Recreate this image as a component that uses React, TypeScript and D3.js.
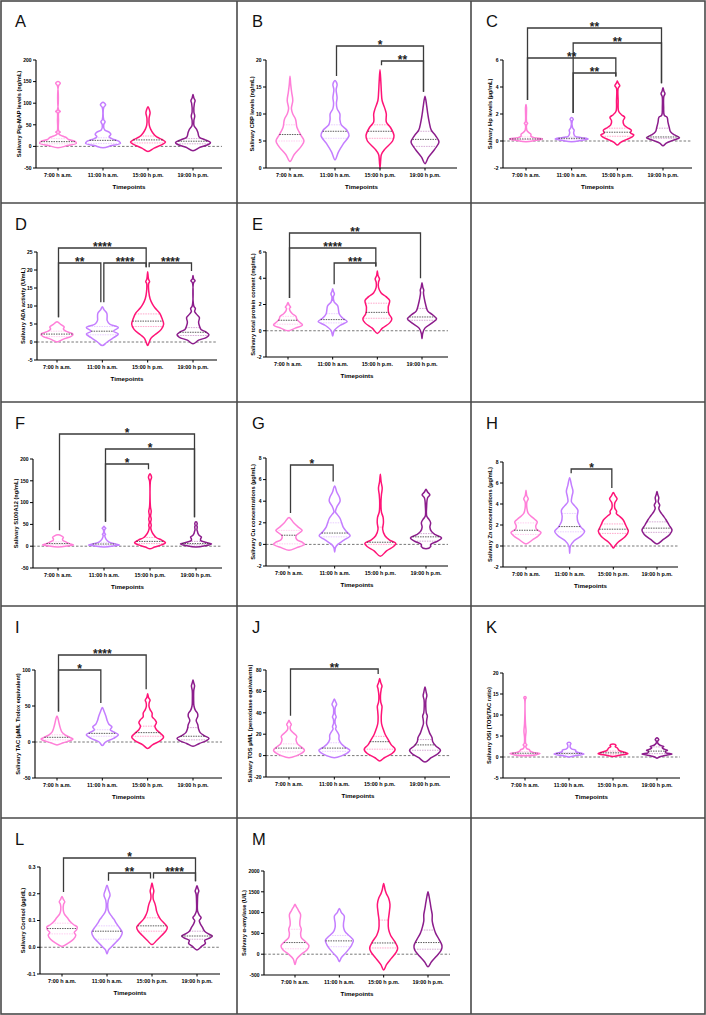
import React from "react";
import * as d3 from "d3";

type Knot = [number, number];
type Stat = [number, number, number];
type Bracket = [number, number, string, number];

const timepoints = ["7:00 h a.m.", "11:00 h a.m.", "15:00 h p.m.", "19:00 h p.m."];
const groupColors = ["#FF7FD8", "#C47EFF", "#FF1477", "#8C1D8C"];

// ---------- A: Pig-MAP ----------
const aTicks = [-50, 0, 50, 100, 150, 200];
const aViolins: Knot[][] = [
  [[-3, 0], [2, 0.55], [7, 1.05], [12, 0.95], [16, 0.6], [20, 0.5], [24, 0.25], [28, 0.06], [31, 0.05], [33, 0.13], [36, 0.04], [60, 0.03], [78, 0.04], [81, 0.13], [84, 0.04], [140, 0.03], [146, 0.13], [150, 0]],
  [[-3, 0], [2, 0.5], [7, 1], [12, 0.9], [18, 0.5], [22, 0.35], [28, 0.45], [33, 0.35], [38, 0.1], [50, 0.04], [57, 0.12], [62, 0.04], [90, 0.04], [96, 0.15], [102, 0]],
  [[-12, 0], [-4, 0.35], [4, 0.8], [10, 1], [16, 0.8], [22, 0.5], [30, 0.3], [40, 0.15], [50, 0.07], [65, 0.06], [78, 0.12], [85, 0.08], [92, 0]],
  [[-10, 0], [-2, 0.4], [5, 0.9], [9, 1], [15, 0.7], [22, 0.35], [32, 0.28], [40, 0.2], [48, 0.06], [60, 0.05], [70, 0.1], [80, 0.05], [100, 0.08], [106, 0.12], [112, 0.05], [120, 0]],
];
const aStats: Stat[] = [[11, 6, 18], [14, 7, 20], [15, 8, 24], [12, 6, 18]];
const aBrackets: Bracket[] = [];

// ---------- B: CRP ----------
const bTicks = [0, 5, 10, 15, 20];
const bViolins: Knot[][] = [
  [[1.2, 0], [2.5, 0.3], [4, 0.8], [5, 1], [6, 0.8], [7.5, 0.5], [9, 0.4], [10, 0.2], [11, 0.1], [12.5, 0.2], [14, 0.12], [15.5, 0.05], [17, 0]],
  [[1.5, 0], [3, 0.25], [4.5, 0.6], [6, 1], [7, 0.85], [8, 0.45], [9, 0.35], [10, 0.35], [11, 0.15], [12, 0.1], [13, 0.15], [14.5, 0.08], [15.5, 0.15], [16.2, 0]],
  [[0, 0], [1.5, 0.05], [2.5, 0.1], [3.5, 0.35], [5, 0.9], [6, 1], [7.5, 0.75], [8.5, 0.45], [10, 0.45], [11, 0.35], [12.5, 0.15], [14, 0.1], [16, 0.06], [18.2, 0]],
  [[0.8, 0], [2, 0.25], [3.5, 0.7], [4.8, 1], [6, 0.75], [7, 0.45], [8.5, 0.3], [10, 0.2], [11.5, 0.12], [13.3, 0]],
];
const bStats: Stat[] = [[6.2, 5, 8], [6.8, 5.5, 8], [6.8, 5.5, 8], [5.3, 4, 6.8]];
const bBrackets: Bracket[] = [[1, 3, "*", 1], [2, 3, "**", 0]];

// ---------- C: Hp ----------
const cTicks = [-2, 0, 2, 4, 6];
const cViolins: Knot[][] = [
  [[-0.05, 0], [0.05, 0.6], [0.15, 1], [0.25, 0.5], [0.35, 0.3], [0.5, 0.3], [0.65, 0.15], [0.8, 0.05], [1.2, 0.04], [1.3, 0.1], [1.4, 0.04], [2.5, 0.03], [2.7, 0]],
  [[-0.05, 0], [0.05, 0.6], [0.15, 1], [0.25, 0.6], [0.35, 0.2], [0.6, 0.12], [0.8, 0.15], [1.0, 0.05], [1.5, 0.04], [1.6, 0.1], [1.75, 0]],
  [[-0.3, 0], [-0.1, 0.2], [0.1, 0.55], [0.3, 0.9], [0.45, 1], [0.6, 0.8], [0.8, 0.85], [1.0, 0.6], [1.2, 0.4], [1.5, 0.35], [1.75, 0.45], [1.95, 0.25], [2.2, 0.08], [3, 0.05], [3.9, 0.05], [4.1, 0.15], [4.3, 0.05], [4.45, 0]],
  [[-0.35, 0], [-0.15, 0.2], [0.05, 0.6], [0.25, 1], [0.45, 0.7], [0.7, 0.45], [1.0, 0.38], [1.4, 0.3], [1.75, 0.25], [1.9, 0.08], [2.5, 0.04], [3.3, 0.05], [3.5, 0.12], [3.7, 0.05], [3.95, 0]],
];
const cStats: Stat[] = [[0.15, 0.1, 0.3], [0.2, 0.1, 0.3], [0.65, 0.35, 0.95], [0.3, 0.2, 0.95]];
const cBrackets: Bracket[] = [[0, 3, "**", 3], [1, 3, "**", 2], [0, 2, "**", 1], [1, 2, "**", 0]];

// ---------- D: ADA ----------
const dTicks = [-5, 0, 5, 10, 15, 20, 25];
const dViolins: Knot[][] = [
  [[0, 0], [0.8, 0.4], [1.6, 0.9], [2.2, 1], [3.0, 0.55], [3.6, 0.4], [4.2, 0.45], [4.8, 0.25], [5.6, 0]],
  [[-1, 0], [0, 0.3], [1.2, 0.7], [2.2, 1], [3, 0.7], [4, 1], [5, 0.45], [6, 0.3], [7, 0.3], [8, 0.28], [9, 0.1], [9.8, 0]],
  [[-1, 0], [0, 0.1], [1, 0.2], [2, 0.45], [3.5, 0.85], [5, 1], [6.5, 0.9], [8, 0.75], [9.5, 0.45], [10.5, 0.3], [12, 0.15], [14, 0.07], [16.2, 0.06], [16.8, 0.12], [17.5, 0.05], [19.5, 0]],
  [[-0.5, 0], [0.5, 0.35], [1.3, 0.85], [2, 1], [2.8, 0.8], [3.5, 0.5], [4.5, 0.4], [5.5, 0.35], [6.8, 0.4], [7.8, 0.2], [8.5, 0.1], [9.3, 0.15], [10, 0.05], [16.5, 0.04], [17, 0.13], [17.5, 0.04], [18.5, 0]],
];
const dStats: Stat[] = [[2.2, 1.5, 3], [3, 2, 4.3], [5.8, 4.3, 7.8], [2.7, 1.8, 4]];
const dBrackets: Bracket[] = [[0, 2, "****", 1], [0, 1, "**", 0], [1, 2, "****", 0], [2, 3, "****", 0]];

// ---------- E: total protein ----------
const eTicks = [-2, 0, 2, 4, 6];
const eViolins: Knot[][] = [
  [[0, 0], [0.2, 0.5], [0.45, 1], [0.7, 0.75], [0.9, 0.6], [1.1, 0.55], [1.3, 0.3], [1.5, 0.15], [1.7, 0.1], [1.8, 0.18], [1.95, 0.08], [2.15, 0]],
  [[-0.4, 0], [0, 0.1], [0.4, 0.5], [0.7, 1], [1.0, 0.65], [1.3, 0.45], [1.6, 0.4], [1.9, 0.35], [2.2, 0.1], [2.6, 0.05], [2.8, 0.12], [3.0, 0.05], [3.2, 0]],
  [[-0.2, 0], [0.2, 0.35], [0.6, 0.85], [0.9, 1], [1.3, 0.8], [1.8, 0.75], [2.3, 0.85], [2.6, 0.6], [2.9, 0.25], [3.3, 0.08], [3.7, 0.08], [3.95, 0.15], [4.2, 0.05], [4.55, 0]],
  [[-0.6, 0], [-0.2, 0.05], [0.2, 0.2], [0.6, 0.7], [0.9, 1], [1.2, 0.75], [1.5, 0.4], [2, 0.25], [2.5, 0.15], [2.9, 0.1], [3.1, 0.12], [3.3, 0.06], [3.65, 0]],
];
const eStats: Stat[] = [[0.8, 0.5, 1.1], [0.85, 0.6, 1.3], [1.4, 0.95, 2.1], [1.05, 0.8, 1.7]];
const eBrackets: Bracket[] = [[0, 3, "**", 2], [0, 2, "****", 1], [1, 2, "***", 0]];

// ---------- F: S100A12 ----------
const fTicks = [-50, 0, 50, 100, 150, 200];
const fViolins: Knot[][] = [
  [[-2, 0], [1, 0.7], [3, 1], [6, 0.75], [10, 0.5], [14, 0.3], [17, 0.3], [20, 0.35], [23, 0.25], [26, 0]],
  [[-2, 0], [1, 0.7], [3, 1], [6, 0.6], [10, 0.3], [15, 0.15], [20, 0.08], [25, 0.05], [27, 0.1], [30, 0.04], [38, 0.04], [41, 0.12], [44, 0.04], [46, 0]],
  [[-6, 0], [-2, 0.3], [3, 0.75], [8, 1], [14, 0.75], [20, 0.4], [28, 0.2], [35, 0.1], [42, 0.05], [48, 0.08], [55, 0.04], [62, 0.08], [70, 0.04], [80, 0.08], [90, 0.03], [150, 0.03], [158, 0.1], [166, 0]],
  [[-2, 0], [1, 0.6], [5, 1], [9, 0.6], [13, 0.3], [17, 0.3], [21, 0.35], [25, 0.2], [30, 0.12], [33, 0.1], [38, 0.06], [44, 0.08], [48, 0.05], [52, 0.08], [56, 0]],
];
const fStats: Stat[] = [[6, 3, 10], [5, 2, 9], [11, 6, 20], [6, 3, 11]];
const fBrackets: Bracket[] = [[0, 3, "*", 2], [1, 3, "*", 1], [1, 2, "*", 0]];

// ---------- G: Cu ----------
const gTicks = [-2, 0, 2, 4, 6, 8];
const gViolins: Knot[][] = [
  [[-0.55, 0], [-0.3, 0.5], [0, 1], [0.2, 0.85], [0.45, 0.5], [0.8, 0.45], [1.1, 0.7], [1.3, 0.85], [1.6, 0.6], [2.0, 0.3], [2.5, 0]],
  [[-0.7, 0], [-0.3, 0.05], [0, 0.2], [0.4, 0.6], [0.8, 1], [1.2, 0.75], [1.6, 0.55], [2.0, 0.45], [2.4, 0.35], [2.8, 0.15], [3.0, 0.05], [3.5, 0.15], [4.0, 0.35], [4.4, 0.3], [4.8, 0.15], [5.4, 0]],
  [[-1.1, 0], [-0.6, 0.4], [-0.2, 0.85], [0.1, 1], [0.4, 0.6], [0.8, 0.3], [1.4, 0.15], [2.0, 0.2], [2.5, 0.18], [3.0, 0.07], [3.8, 0.04], [4.6, 0.07], [5.2, 0.12], [5.8, 0.05], [6.5, 0]],
  [[-0.4, 0], [-0.2, 0.3], [0, 0.3], [0.3, 0.75], [0.6, 1], [0.9, 0.6], [1.2, 0.35], [1.6, 0.25], [2.0, 0.3], [2.3, 0.2], [2.6, 0.05], [3.5, 0.04], [4.3, 0.1], [4.6, 0.25], [4.85, 0.1], [5.1, 0]],
];
const gStats: Stat[] = [[0.85, 0.05, 1.3], [1.05, 0.7, 2], [0.2, 0, 1.6], [0.7, 0.3, 1.0]];
const gBrackets: Bracket[] = [[0, 1, "*", 0]];

// ---------- H: Zn ----------
const hTicks = [-2, 0, 2, 4, 6, 8];
const hViolins: Knot[][] = [
  [[0.2, 0], [0.6, 0.45], [1.0, 0.85], [1.3, 1], [1.6, 0.7], [1.9, 0.65], [2.3, 0.75], [2.7, 0.45], [3.1, 0.15], [3.6, 0.06], [4.2, 0.06], [4.5, 0.15], [4.8, 0.05], [5.3, 0]],
  [[-0.7, 0], [0, 0.05], [0.5, 0.3], [1.0, 0.8], [1.4, 1], [1.8, 0.75], [2.3, 0.55], [2.8, 0.5], [3.4, 0.55], [3.8, 0.35], [4.2, 0.12], [4.7, 0.15], [5.2, 0.22], [5.8, 0.12], [6.5, 0]],
  [[-0.2, 0], [0, 0.1], [0.4, 0.35], [0.9, 0.8], [1.4, 1], [1.9, 0.85], [2.5, 0.65], [2.9, 0.35], [3.1, 0.2], [3.3, 0.22], [3.6, 0.1], [4.1, 0.1], [4.5, 0.25], [4.8, 0.12], [5.1, 0]],
  [[0.2, 0], [0.6, 0.4], [1.1, 0.85], [1.5, 1], [2.0, 0.8], [2.5, 0.6], [2.9, 0.4], [3.3, 0.2], [3.6, 0.12], [3.9, 0.18], [4.2, 0.08], [4.6, 0.12], [4.9, 0.05], [5.2, 0]],
];
const hStats: Stat[] = [[1.5, 1.1, 2.2], [1.85, 1.35, 3.1], [1.6, 1.2, 2.1], [1.7, 1.3, 2.3]];
const hBrackets: Bracket[] = [[1, 2, "*", 0]];

// ---------- I: TAC ----------
const iTicks = [-50, 0, 50, 100];
const iViolins: Knot[][] = [
  [[-4, 0], [-1, 0.4], [2, 0.85], [4, 1], [7, 0.75], [10, 0.5], [14, 0.3], [20, 0.2], [27, 0.12], [32, 0.07], [36, 0]],
  [[-5, 0], [0, 0.2], [5, 0.7], [10, 1], [14, 0.7], [17, 0.5], [21, 0.6], [25, 0.4], [30, 0.3], [36, 0.22], [42, 0.12], [48, 0]],
  [[-9, 0], [-4, 0.3], [2, 0.8], [7, 1], [12, 0.8], [17, 0.55], [22, 0.45], [27, 0.55], [31, 0.45], [35, 0.28], [40, 0.28], [45, 0.15], [50, 0.08], [55, 0.1], [58, 0.15], [62, 0.05], [67, 0]],
  [[-6, 0], [-2, 0.4], [2, 0.85], [5, 1], [9, 0.7], [13, 0.45], [18, 0.35], [24, 0.3], [30, 0.2], [36, 0.3], [40, 0.28], [44, 0.15], [50, 0.06], [60, 0.04], [72, 0.05], [78, 0.1], [82, 0.05], [86, 0]],
];
const iStats: Stat[] = [[6.5, 3, 10], [12, 8, 17], [13, 8, 22], [8, 3, 20]];
const iBrackets: Bracket[] = [[0, 2, "****", 1], [0, 1, "*", 0]];

// ---------- J: TOS ----------
const jTicks = [-20, 0, 20, 40, 60, 80];
const jViolins: Knot[][] = [
  [[-2, 0], [0, 0.5], [3, 0.9], [5, 1], [8, 0.8], [11, 0.55], [15, 0.45], [18, 0.5], [21, 0.3], [24, 0.1], [27, 0.08], [29, 0.15], [31, 0.07], [33, 0]],
  [[-2, 0], [0, 0.5], [3, 0.9], [5, 1], [8, 0.7], [11, 0.45], [15, 0.3], [19, 0.3], [22, 0.2], [25, 0.08], [27, 0.12], [30, 0.05], [34, 0.06], [36, 0.12], [39, 0.05], [45, 0.06], [48, 0.15], [51, 0.06], [53, 0]],
  [[-5, 0], [-2, 0.3], [2, 0.8], [6, 1], [10, 0.75], [15, 0.55], [20, 0.35], [25, 0.22], [30, 0.12], [36, 0.1], [42, 0.13], [46, 0.15], [50, 0.07], [56, 0.05], [62, 0.1], [65, 0.15], [68, 0.07], [72, 0]],
  [[-6, 0], [-2, 0.4], [2, 0.85], [5, 1], [9, 0.7], [13, 0.5], [17, 0.45], [21, 0.3], [26, 0.18], [30, 0.1], [34, 0.12], [37, 0.15], [40, 0.08], [46, 0.05], [52, 0.06], [56, 0.12], [59, 0.08], [64, 0]],
];
const jStats: Stat[] = [[7, 3.5, 11], [7, 4, 12], [13, 6, 18], [10, 5, 15]];
const jBrackets: Bracket[] = [[0, 2, "**", 0]];

// ---------- K: OSI ----------
const kTicks = [-5, 0, 5, 10, 15, 20];
const kViolins: Knot[][] = [
  [[0.3, 0], [0.5, 0.7], [0.8, 1], [1.1, 0.55], [1.4, 0.35], [1.7, 0.3], [2.0, 0.12], [2.5, 0.05], [2.9, 0.12], [3.2, 0.05], [4.5, 0.03], [6.2, 0.07], [8, 0.03], [13.8, 0.03], [14.1, 0.08], [14.4, 0]],
  [[0, 0], [0.3, 0.4], [0.7, 1], [1.0, 0.7], [1.3, 0.45], [1.6, 0.45], [1.9, 0.2], [2.3, 0.08], [2.8, 0.08], [3.2, 0.13], [3.5, 0]],
  [[0.1, 0], [0.4, 0.45], [0.8, 1], [1.2, 0.7], [1.6, 0.4], [2.1, 0.3], [2.5, 0.15], [2.8, 0.2], [3.1, 0]],
  [[-0.3, 0], [0, 0.15], [0.3, 0.45], [0.7, 1], [1.0, 0.6], [1.3, 0.55], [1.6, 0.7], [1.9, 0.45], [2.2, 0.35], [2.5, 0.45], [2.8, 0.2], [3.3, 0.05], [3.8, 0.05], [4.1, 0.12], [4.6, 0]],
];
const kStats: Stat[] = [[0.9, 0.6, 1.3], [0.85, 0.55, 1.1], [1.0, 0.7, 1.4], [1.4, 0.8, 2.4]];
const kBrackets: Bracket[] = [];

// ---------- L: Cortisol ----------
const lTicks = [-0.1, 0.0, 0.1, 0.2, 0.3];
const lViolins: Knot[][] = [
  [[0.003, 0], [0.015, 0.4], [0.03, 0.75], [0.045, 0.9], [0.055, 0.8], [0.065, 0.95], [0.075, 1], [0.085, 0.75], [0.095, 0.55], [0.11, 0.35], [0.125, 0.15], [0.14, 0.08], [0.16, 0.1], [0.17, 0.18], [0.18, 0.08], [0.19, 0]],
  [[-0.025, 0], [-0.01, 0.1], [0.005, 0.35], [0.02, 0.6], [0.035, 0.85], [0.055, 1], [0.07, 0.85], [0.09, 0.6], [0.105, 0.45], [0.12, 0.25], [0.135, 0.1], [0.15, 0.05], [0.175, 0.08], [0.195, 0.2], [0.215, 0.1], [0.232, 0]],
  [[0.01, 0], [0.025, 0.3], [0.045, 0.65], [0.06, 0.9], [0.075, 1], [0.09, 0.8], [0.105, 0.55], [0.12, 0.4], [0.135, 0.3], [0.15, 0.25], [0.165, 0.18], [0.18, 0.08], [0.195, 0.07], [0.21, 0.12], [0.225, 0.06], [0.24, 0]],
  [[-0.01, 0], [0.003, 0.3], [0.015, 0.55], [0.025, 0.5], [0.035, 0.85], [0.042, 1], [0.05, 0.75], [0.06, 0.5], [0.075, 0.35], [0.09, 0.2], [0.1, 0.15], [0.11, 0.27], [0.12, 0.15], [0.135, 0.04], [0.17, 0.03], [0.2, 0.06], [0.21, 0.12], [0.22, 0.06], [0.23, 0]],
];
const lStats: Stat[] = [[0.07, 0.05, 0.09], [0.06, 0.03, 0.08], [0.08, 0.06, 0.11], [0.042, 0.03, 0.06]];
const lBrackets: Bracket[] = [[0, 3, "*", 1], [1, 2, "**", 0], [2, 3, "****", 0]];

// ---------- M: alpha-amylase ----------
const mTicks = [-500, 0, 500, 1000, 1500, 2000];
const mViolins: Knot[][] = [
  [[-250, 0], [-120, 0.12], [0, 0.45], [100, 0.85], [200, 1], [300, 0.75], [400, 0.45], [500, 0.4], [600, 0.45], [700, 0.35], [800, 0.35], [950, 0.4], [1050, 0.25], [1150, 0.08], [1200, 0]],
  [[-180, 0], [-80, 0.15], [50, 0.5], [200, 0.85], [330, 1], [430, 0.75], [550, 0.4], [650, 0.3], [750, 0.3], [850, 0.35], [920, 0.35], [1000, 0.15], [1100, 0]],
  [[-380, 0], [-250, 0.2], [-100, 0.55], [50, 0.9], [150, 1], [300, 0.8], [450, 0.5], [600, 0.35], [800, 0.33], [1000, 0.4], [1200, 0.45], [1350, 0.35], [1450, 0.2], [1550, 0.1], [1700, 0]],
  [[-300, 0], [-180, 0.25], [-50, 0.6], [100, 0.95], [200, 1], [350, 0.8], [500, 0.55], [650, 0.4], [800, 0.3], [950, 0.3], [1100, 0.22], [1250, 0.15], [1400, 0.07], [1500, 0]],
];
const mStats: Stat[] = [[280, 130, 600], [320, 180, 450], [270, 150, 820], [280, 120, 580]];
const mBrackets: Bracket[] = [];

// ---------- layout ----------
type Box = { px: number; py: number; ax: number; c0: number; c3: number; xEnd: number; yt: number; yb: number; halfW: number; bBase: number };
type PanelDef = { letter: string; yLabel: string; ticks: number[]; violins: Knot[][]; stats: Stat[]; brackets: Bracket[]; decimals?: number; box: Box };

const panels: PanelDef[] = [
  { letter: "A", yLabel: "Salivary Pig-MAP levels (ng/mL)", ticks: aTicks, violins: aViolins, stats: aStats, brackets: aBrackets, box: { px: 0, py: 0, ax: 36, c0: 58, c3: 193, xEnd: 222, yt: 60, yb: 168, halfW: 17.5, bBase: 0 } },
  { letter: "B", yLabel: "Salivary CRP levels (ng/mL)", ticks: bTicks, violins: bViolins, stats: bStats, brackets: bBrackets, box: { px: 237, py: 0, ax: 266, c0: 290, c3: 425, xEnd: 457, yt: 60, yb: 168, halfW: 14, bBase: 61 } },
  { letter: "C", yLabel: "Salivary Hp levels (\u00b5g/mL)", ticks: cTicks, violins: cViolins, stats: cStats, brackets: cBrackets, box: { px: 471, py: 0, ax: 503, c0: 526, c3: 663, xEnd: 692, yt: 60, yb: 168, halfW: 16.5, bBase: 73 } },
  { letter: "D", yLabel: "Salivary ADA activity (U/mL)", ticks: dTicks, violins: dViolins, stats: dStats, brackets: dBrackets, box: { px: 0, py: 203, ax: 37, c0: 57, c3: 193, xEnd: 217, yt: 252, yb: 360, halfW: 16, bBase: 263 } },
  { letter: "E", yLabel: "Salivary total protein content (mg/mL)", ticks: eTicks, violins: eViolins, stats: eStats, brackets: eBrackets, box: { px: 237, py: 203, ax: 266, c0: 288, c3: 422, xEnd: 448, yt: 252, yb: 357, halfW: 14.5, bBase: 263 } },
  { letter: "F", yLabel: "Salivary S100A12 (ng/mL)", ticks: fTicks, violins: fViolins, stats: fStats, brackets: fBrackets, box: { px: 0, py: 402, ax: 33, c0: 58, c3: 196, xEnd: 222, yt: 459, yb: 568, halfW: 15.5, bBase: 464 } },
  { letter: "G", yLabel: "Salivary Cu concentrations (\u00b5g/mL)", ticks: gTicks, violins: gViolins, stats: gStats, brackets: gBrackets, box: { px: 237, py: 402, ax: 266, c0: 289, c3: 426, xEnd: 448, yt: 458, yb: 566, halfW: 15.5, bBase: 465 } },
  { letter: "H", yLabel: "Salivary Zn concentrations (\u00b5g/mL)", ticks: hTicks, violins: hViolins, stats: hStats, brackets: hBrackets, box: { px: 471, py: 402, ax: 503, c0: 526, c3: 657, xEnd: 678, yt: 462, yb: 567, halfW: 15, bBase: 469 } },
  { letter: "I", yLabel: "Salivary TAC (\u00b5M/L Trolox equivalent)", ticks: iTicks, violins: iViolins, stats: iStats, brackets: iBrackets, box: { px: 0, py: 606, ax: 35, c0: 57, c3: 193, xEnd: 222, yt: 670, yb: 778, halfW: 16, bBase: 670 } },
  { letter: "J", yLabel: "Salivary TOS \u00b5M/L (peroxidase equivalents)", ticks: jTicks, violins: jViolins, stats: jStats, brackets: jBrackets, box: { px: 237, py: 606, ax: 266, c0: 289, c3: 425, xEnd: 450, yt: 670, yb: 777, halfW: 15.5, bBase: 669 } },
  { letter: "K", yLabel: "Salivary OSI (TOS/TAC ratio)", ticks: kTicks, violins: kViolins, stats: kStats, brackets: kBrackets, box: { px: 471, py: 606, ax: 503, c0: 525, c3: 657, xEnd: 680, yt: 673, yb: 778, halfW: 15, bBase: 0 } },
  { letter: "L", yLabel: "Salivary Cortisol (\u00b5g/dL)", ticks: lTicks, violins: lViolins, stats: lStats, brackets: lBrackets, decimals: 1, box: { px: 0, py: 818, ax: 40, c0: 62, c3: 197, xEnd: 220, yt: 867, yb: 974, halfW: 15.3, bBase: 873 } },
  { letter: "M", yLabel: "Salivary \u03b1-amylase (U/L)", ticks: mTicks, violins: mViolins, stats: mStats, brackets: mBrackets, box: { px: 237, py: 818, ax: 264, c0: 295, c3: 428, xEnd: 450, yt: 871, yb: 975, halfW: 14, bBase: 0 } },
];

const FONT = "'Liberation Sans', Arial, Helvetica, sans-serif";

function widthAt(knots: Knot[], v: number): number {
  for (let i = 0; i < knots.length - 1; i++) {
    const [v0, w0] = knots[i];
    const [v1, w1] = knots[i + 1];
    if (v >= v0 && v <= v1) return w0 + ((w1 - w0) * (v - v0)) / (v1 - v0);
  }
  return 0;
}

function violinPath(knots: Knot[], cx: number, halfW: number, y: d3.ScaleLinear<number, number>): string {
  const right: [number, number][] = knots.map(([v, w]) => [cx + w * halfW, y(v)]);
  const left: [number, number][] = knots.slice(1, -1).reverse().map(([v, w]) => [cx - w * halfW, y(v)]);
  const line = d3.line<[number, number]>().curve(d3.curveCatmullRomClosed.alpha(0.5));
  return line([...right, ...left]) || "";
}

function tickWidth(s: string): number {
  let w = 0;
  for (const ch of s) w += ch === "-" ? 1.67 : ch === "." ? 1.39 : 2.78;
  return w;
}

function Panel({ p }: { p: PanelDef }) {
  const b = p.box;
  const y = d3.scaleLinear().domain([p.ticks[0], p.ticks[p.ticks.length - 1]]).range([b.yb, b.yt]);
  const x = d3.scalePoint<string>().domain(timepoints).range([b.c0, b.c3]);
  const fmt = (t: number) => (p.decimals ? t.toFixed(p.decimals) : String(t));
  const maxTW = Math.max(...p.ticks.map((t) => tickWidth(fmt(t))));
  const labelX = b.ax - maxTW - 8.5;
  const yMid = (b.yt + b.yb) / 2;
  const hasZero = p.ticks[0] < 0;
  const tops = p.violins.map((k) => k[k.length - 1][0]);
  return (
    <g>
      <text x={b.px + 15} y={b.py + 27} fontSize={16.5} fontFamily={FONT} fill="#111">{p.letter}</text>
      {hasZero && (
        <line x1={b.ax} x2={b.xEnd} y1={y(0)} y2={y(0)} stroke="#555" strokeWidth={0.8} strokeDasharray="2.5,1.8" />
      )}
      {p.violins.map((knots, i) => {
        const cx = x(timepoints[i]) as number;
        const [med, q1, q3] = p.stats[i];
        const seg = (v: number) => {
          const w = widthAt(knots, v) * b.halfW;
          return { x1: cx - w, x2: cx + w, y: y(v) };
        };
        const m = seg(med), a = seg(q1), c = seg(q3);
        return (
          <g key={i}>
            <path d={violinPath(knots, cx, b.halfW, y)} fill="#fff" stroke={groupColors[i]} strokeWidth={1.5} strokeLinejoin="round" />
            <line x1={a.x1} x2={a.x2} y1={a.y} y2={a.y} stroke={groupColors[i]} strokeOpacity={0.55} strokeWidth={0.7} strokeDasharray="1.5,1" />
            <line x1={c.x1} x2={c.x2} y1={c.y} y2={c.y} stroke={groupColors[i]} strokeOpacity={0.55} strokeWidth={0.7} strokeDasharray="1.5,1" />
            <line x1={m.x1} x2={m.x2} y1={m.y} y2={m.y} stroke="#333" strokeWidth={0.8} strokeDasharray="1.5,1" />
          </g>
        );
      })}
      <line x1={b.ax} x2={b.ax} y1={b.yt} y2={b.yb} stroke="#000" strokeWidth={1.1} />
      {p.ticks.map((t) => (
        <g key={t}>
          <line x1={b.ax - 3} x2={b.ax} y1={y(t)} y2={y(t)} stroke="#000" strokeWidth={1} />
          <text x={b.ax - 4.5} y={y(t)} dy="0.35em" textAnchor="end" fontSize={5} fontWeight="bold" fontFamily={FONT} fill="#000">{fmt(t)}</text>
        </g>
      ))}
      <text transform={`translate(${labelX},${yMid}) rotate(-90)`} textAnchor="middle" dy="0.35em" fontSize={5.7} fontWeight="bold" fontFamily={FONT} fill="#000">{p.yLabel}</text>
      <line x1={b.ax} x2={b.xEnd} y1={b.yb} y2={b.yb} stroke="#000" strokeWidth={1.1} />
      {timepoints.map((tp) => (
        <g key={tp}>
          <line x1={x(tp)} x2={x(tp)} y1={b.yb} y2={b.yb + 2.5} stroke="#000" strokeWidth={1} />
          <text x={x(tp)} y={b.yb + 8.5} textAnchor="middle" fontSize={5.4} fontWeight="bold" fontFamily={FONT} fill="#000">{tp}</text>
        </g>
      ))}
      <text x={(b.ax + b.xEnd) / 2} y={b.yb + 20.5} textAnchor="middle" fontSize={6.2} fontWeight="bold" fontFamily={FONT} fill="#000">Timepoints</text>
      {p.brackets.map(([i, j, lab, lvl], k) => {
        const yl = b.bBase - lvl * 15;
        const x1 = (x(timepoints[i]) as number) + 1.5;
        const x2 = (x(timepoints[j]) as number) - 1.5;
        const e1 = y(tops[i]) - 4.5;
        const e2 = y(tops[j]) - 4.5;
        return (
          <g key={k}>
            <path d={`M${x1},${e1}V${yl}H${x2}V${e2}`} fill="none" stroke="#3a3a3a" strokeWidth={1.3} />
            <text x={(x1 + x2) / 2} y={yl + 2.6} textAnchor="middle" fontSize={12} fontWeight="bold" fontFamily={FONT} fill="#222">{lab}</text>
          </g>
        );
      })}
    </g>
  );
}

const colLines = [237, 471];
const rowLines = [203, 402, 606, 818];

export default function App() {
  return (
    <svg width={706} height={1015} style={{ position: "absolute", left: 0, top: 0, background: "#fff" }}>
      <rect x={0} y={0} width={706} height={1015} fill="#fff" />
      {panels.map((p) => (
        <Panel key={p.letter} p={p} />
      ))}
      <rect x={1} y={1} width={704} height={1013} fill="none" stroke="#4a4a4a" strokeWidth={1.6} />
      {colLines.map((cx) => (
        <line key={cx} x1={cx} x2={cx} y1={1} y2={1014} stroke="#4a4a4a" strokeWidth={1.6} />
      ))}
      {rowLines.map((ry) => (
        <line key={ry} x1={1} x2={705} y1={ry} y2={ry} stroke="#4a4a4a" strokeWidth={1.6} />
      ))}
    </svg>
  );
}
